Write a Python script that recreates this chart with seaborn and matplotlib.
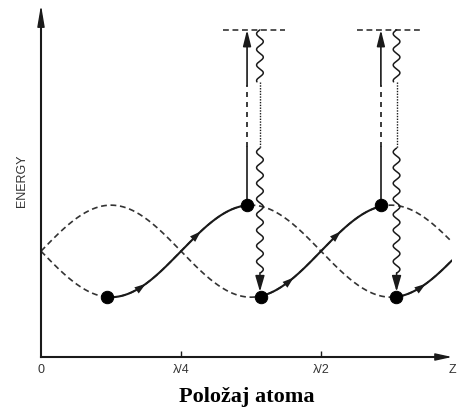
import numpy as np
import pandas as pd
import matplotlib
matplotlib.use("Agg")
import matplotlib.pyplot as plt
import seaborn as sns

# position along z in units of lambda, energy in units of the potential depth
z_ticks = [0, 0.25, 0.5, 0.734]
z_labels = ["0", "λ/4", "λ/2", "Z"]
z_max = 0.734
e_max = 7.65

u_center = 2.3      # mid level of the two light-shift potentials
u_depth = 1.0       # modulation depth
u_period = 0.5      # potentials repeat every lambda/2
pump_level = 7.11   # excited level (top dashed bars)

# atom positions (dots)
dot_z = [0.118, 0.368, 0.393, 0.607, 0.634]
dot_e = [1.30, 3.30, 1.30, 3.30, 1.30]

# climbing parts of the trajectory: (potential, start z, end z)
climbs = [("B", 0.118, 0.368), ("A", 0.393, 0.607), ("B", 0.634, 0.734)]
# small direction arrows along the trajectory
arrow_z = [0.191, 0.289, 0.455, 0.539, 0.691]
arrow_pot = ["B", "B", "A", "A", "B"]

# optical pumping (up) and spontaneous emission (down, wavy)
pump_z = [0.368, 0.607]
emit_z = [0.391, 0.635]
pump_breaks = [4.57, 5.91]      # solid / dashed / solid
emit_breaks = [5.98, 4.54, 1.83]  # wavy / dotted / wavy / arrow


def potential(z, which):
    s = np.sin(2 * np.pi * np.asarray(z) / u_period)
    return u_center + u_depth * (s if which == "A" else -s)


sns.set_style("white")
ink = "#1a1a1a"

fig = plt.figure(figsize=(4.57, 4.12), dpi=100)
ax = fig.add_axes([41 / 457, 55 / 412, 411 / 457, 352 / 412])
ax.set_xlim(0, z_max)
ax.set_ylim(0, e_max)

# dashed potentials
zz = np.linspace(0, z_max, 400)
pots = pd.DataFrame({"z": np.concatenate([zz, zz]),
                     "E": np.concatenate([potential(zz, "A"), potential(zz, "B")]),
                     "pot": ["A"] * len(zz) + ["B"] * len(zz)})
sns.lineplot(data=pots, x="z", y="E", units="pot", estimator=None, ax=ax,
             color="#333333", lw=1.2, linestyle=(0, (3.5, 2.2)), zorder=2)

# solid trajectory
for pot, z0, z1 in climbs:
    zs = np.linspace(z0, z1, 150)
    sns.lineplot(x=zs, y=potential(zs, pot), ax=ax, color=ink, lw=1.5, zorder=3)

for z, pot in zip(arrow_z, arrow_pot):
    ax.annotate("", xy=(z, potential(z, pot)), xytext=(z - 0.01, potential(z - 0.01, pot)),
                arrowprops=dict(arrowstyle="-|>,head_length=0.9,head_width=0.3",
                                color=ink, lw=0, mutation_scale=9), zorder=4)

# pumping arrows
for z, e0 in zip(pump_z, [3.30, 3.30]):
    ax.plot([z, z], [e0, pump_breaks[0]], color=ink, lw=1.2, zorder=3)
    ax.plot([z, z], [pump_breaks[0], pump_breaks[1]], color=ink, lw=1.2,
            linestyle=(0, (3, 3)), zorder=3)
    ax.annotate("", xy=(z, pump_level), xytext=(z, pump_breaks[1]),
                arrowprops=dict(arrowstyle="-|>,head_length=1.2,head_width=0.3",
                                color=ink, lw=1.2, mutation_scale=8,
                                shrinkA=0, shrinkB=0), zorder=3)

# top dashed bars
for zp, ze in zip(pump_z, emit_z):
    ax.plot([zp - 0.043, ze + 0.045], [pump_level, pump_level], color="#333333",
            lw=1.2, linestyle=(0, (3.5, 2.2)), zorder=2)

# wavy emission lines
amp, wl = 0.006, 0.34
for z in emit_z:
    for e_top, e_bot in [(pump_level, emit_breaks[0]), (emit_breaks[1], emit_breaks[2])]:
        ee = np.linspace(e_top, e_bot, 200)
        ax.plot(z + amp * np.sin(2 * np.pi * (ee - e_top) / wl), ee, color=ink, lw=1.1, zorder=3)
    ax.plot([z, z], [emit_breaks[0], emit_breaks[1]], color=ink, lw=1.0,
            linestyle=(0, (1, 1)), zorder=3)
    ax.annotate("", xy=(z, 1.42), xytext=(z, emit_breaks[2]),
                arrowprops=dict(arrowstyle="-|>,head_length=1.2,head_width=0.35",
                                color=ink, lw=1.1, mutation_scale=8,
                                shrinkA=0, shrinkB=0), zorder=3)

# atoms
sns.scatterplot(x=dot_z, y=dot_e, s=80, color="black", edgecolor="black", ax=ax, zorder=5)

# axes with arrow heads
for side in ["top", "right"]:
    ax.spines[side].set_visible(False)
for side in ["left", "bottom"]:
    ax.spines[side].set_linewidth(1.5)
    ax.spines[side].set_color(ink)
ax.spines["left"].set_bounds(0, e_max * 0.97)
ax.spines["bottom"].set_bounds(0, z_max * 0.97)
ax.annotate("", xy=(0, 1), xytext=(0, 0.96), xycoords="axes fraction",
            arrowprops=dict(arrowstyle="-|>,head_length=1.3,head_width=0.22",
                            color=ink, lw=1.0, mutation_scale=10, shrinkA=0, shrinkB=0))
ax.annotate("", xy=(1, 0), xytext=(0.96, 0), xycoords="axes fraction",
            arrowprops=dict(arrowstyle="-|>,head_length=1.0,head_width=0.22",
                            color=ink, lw=1.0, mutation_scale=10, shrinkA=0, shrinkB=0))

ax.set_xticks(z_ticks)
ax.set_xticklabels(z_labels, fontfamily="Liberation Sans", fontsize=9, color="#333333")
ax.set_yticks([])
ax.tick_params(axis="x", direction="in", length=4, width=1, color=ink, pad=5, bottom=True)
ticks = ax.xaxis.get_major_ticks()
ticks[0].tick1line.set_visible(False)
ticks[-1].tick1line.set_visible(False)

ax.set_ylabel("ENERGY", fontfamily="Liberation Sans", fontsize=9, color="#333333", labelpad=9)
ax.set_xlabel("Položaj atoma", fontfamily="Liberation Serif", fontweight="bold",
              fontsize=16, color="black", labelpad=8)

fig.savefig("out.png", dpi=100)
